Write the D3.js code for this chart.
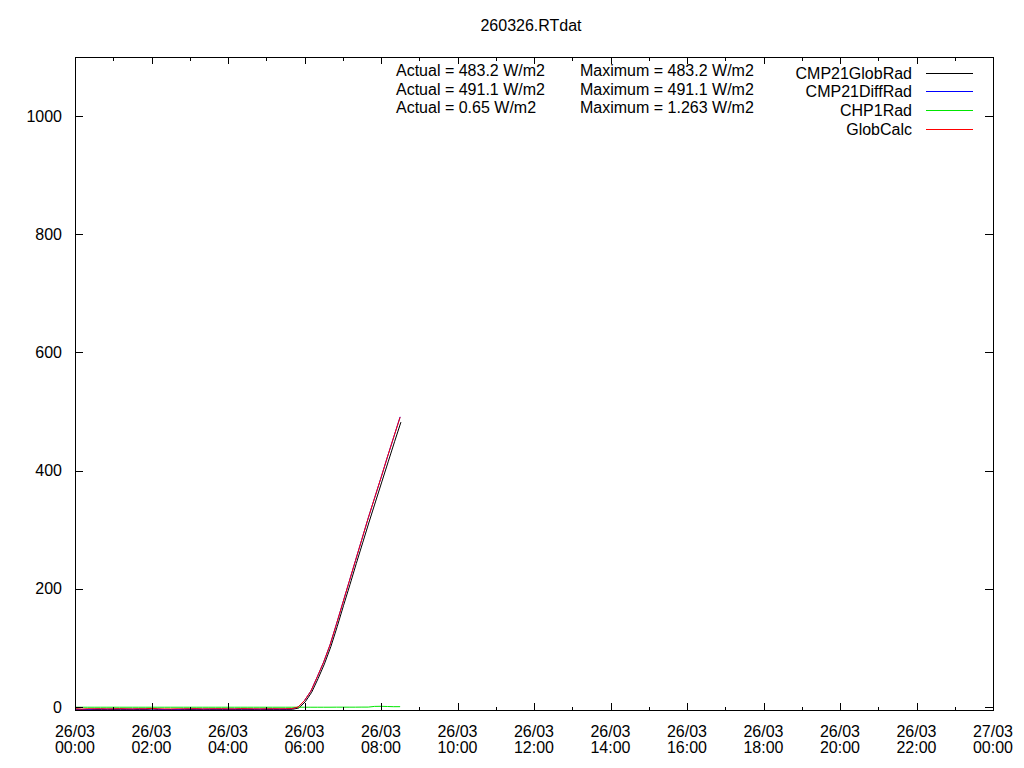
<!DOCTYPE html>
<html>
<head>
<meta charset="utf-8">
<script src="https://cdn.jsdelivr.net/npm/d3@7"></script>
<style>
  html, body { margin: 0; padding: 0; background: #fff; }
  svg { display: block; font-family: "Liberation Sans", Arial, sans-serif; }
</style>
</head>
<body>
<svg id="chart" width="1024" height="768"></svg>
<script>
// ---- Data ----
const title = "260326.RTdat";
const times = [
  "00:00","00:10","00:20","00:30","00:40","00:50",
  "01:00","01:10","01:20","01:30","01:40","01:50",
  "02:00","02:10","02:20","02:30","02:40","02:50",
  "03:00","03:10","03:20","03:30","03:40","03:50",
  "04:00","04:10","04:20","04:30","04:40","04:50",
  "05:00","05:10","05:20","05:30","05:40","05:50",
  "06:00","06:10","06:20","06:30","06:40","06:50",
  "07:00","07:10","07:20","07:30","07:40","07:50",
  "08:00","08:10","08:20","08:30"
];
const globRad = [
  -2.5,-3.1,-2.8,-3.2,-3.0,-3.3,
  -3.1,-2.9,-3.2,-3.4,-3.0,-3.1,
  -2.2,-3.3,-3.5,-3.2,-3.0,-3.3,
  -3.1,-2.9,-3.4,-3.2,-3.0,-3.1,
  -3.3,-3.2,-2.9,-3.0,-3.2,-3.4,
  -3.1,-3.0,-3.2,-3.1,-2.8,-0.5,
  10,26,49,74,103,137,
  173,208,244,279,314,348,
  382,416,450,483.2
];
const diffRad = [
  -4.6,-4.4,-4.5,-3.4,-3.3,-3.5,
  -3.3,-3.2,-3.4,-3.5,-3.3,-3.3,
  -3.0,-3.4,-4.5,-4.6,-4.4,-3.4,
  -3.3,-3.2,-3.5,-3.4,-3.3,-3.3,
  -3.4,-3.4,-3.2,-3.3,-3.4,-3.5,
  -3.3,-3.2,-3.4,-3.3,-3.0,0,
  11,27,51,76,105,140,
  176,212,248,284,320,354,
  388,423,457,491.1
];
const chp1Rad = [
  -0.3,-0.3,-0.3,-0.3,-0.3,-0.3,
  -0.3,-0.3,-0.3,-0.3,-0.3,-0.3,
  -0.3,-0.3,-0.3,-0.3,-0.3,-0.3,
  -0.3,-0.3,-0.3,-0.3,-0.3,-0.3,
  -0.3,-0.3,-0.3,-0.3,-0.3,-0.3,
  -0.3,-0.3,-0.3,-0.3,-0.3,-0.3,
  -0.3,-0.3,-0.3,-0.3,-0.3,-0.2,
  -0.2,-0.2,-0.2,-0.1,-0.1,1.1,
  1.263,0.9,0.6,0.65
];
const globCalc = [
  -3.0,-3.5,-2.9,-3.0,-2.9,-3.1,
  -3.0,-2.8,-3.0,-3.1,-2.9,-3.0,
  -2.4,-3.0,-3.1,-3.2,-3.0,-3.0,
  -2.9,-2.8,-3.1,-3.0,-2.9,-2.9,
  -3.0,-3.1,-2.8,-2.9,-3.0,-3.1,
  -3.0,-2.9,-3.0,-2.9,-2.7,0,
  11,27,51,76,105,140,
  176,212,248,284,320,354,
  388,423,457,490.5
];
const seriesNames = ["CMP21GlobRad","CMP21DiffRad","CHP1Rad","GlobCalc"];
const seriesColors = ["#000000","#0000ff","#00e600","#ff0000"];
const actualLabels = ["Actual = 483.2 W/m2","Actual = 491.1 W/m2","Actual = 0.65 W/m2"];
const maximumLabels = ["Maximum = 483.2 W/m2","Maximum = 491.1 W/m2","Maximum = 1.263 W/m2"];
const yTicks = [0,200,400,600,800,1000];
const yDomain = [-5, 1100];

// ---- Layout ----
const L = 75, R = 993, T = 57, B = 710;
const svg = d3.select("#chart");

const t0 = Date.UTC(2026,2,26,0,0);
const t1 = Date.UTC(2026,2,27,0,0);
const parseT = s => { const [h,m] = s.split(":").map(Number); return new Date(t0 + (h*60+m)*60000); };
const x = d3.scaleUtc().domain([new Date(t0), new Date(t1)]).range([L, R]);
const y = d3.scaleLinear().domain(yDomain).range([B, T]);

const majorTicks = x.ticks(d3.utcHour.every(2));
const minorTicks = x.ticks(d3.utcHour.every(1));

svg.append("defs").append("clipPath").attr("id","clip")
  .append("rect").attr("x",L).attr("y",T).attr("width",R-L).attr("height",B-T);

// ---- Data lines ----
const allSeries = [globRad, diffRad, chp1Rad, globCalc];
const line = d3.line().x((d,i) => x(parseT(times[i]))).y(d => y(d));
const g = svg.append("g").attr("clip-path","url(#clip)");
allSeries.forEach((vals, k) => {
  g.append("path").datum(vals)
    .attr("d", line)
    .attr("fill","none")
    .attr("stroke", seriesColors[k])
    .attr("stroke-width", 1)
    .attr("transform", k === 0 ? "translate(0.8,0.6)" : null);
});

// ---- Axes (gnuplot style: inward ticks, mirrored) ----
svg.append("g").attr("transform",`translate(0,${B})`)
  .call(d3.axisBottom(x).tickValues(majorTicks).tickSize(-7).tickFormat(""))
  .call(s => s.select(".domain").remove());
svg.append("g").attr("transform",`translate(0,${B})`)
  .call(d3.axisBottom(x).tickValues(minorTicks).tickSize(-3.5).tickFormat(""))
  .call(s => s.select(".domain").remove());
svg.append("g").attr("transform",`translate(0,${T})`)
  .call(d3.axisTop(x).tickValues(majorTicks).tickSize(-7).tickFormat(""))
  .call(s => s.select(".domain").remove());
svg.append("g").attr("transform",`translate(0,${T})`)
  .call(d3.axisTop(x).tickValues(minorTicks).tickSize(-3.5).tickFormat(""))
  .call(s => s.select(".domain").remove());
const yl = svg.append("g").attr("transform",`translate(${L},0)`)
  .call(d3.axisLeft(y).tickValues(yTicks).tickSize(-8).tickPadding(13).tickFormat(d3.format("d")))
  .call(s => s.select(".domain").remove());
yl.selectAll("text").attr("font-size","16px").attr("font-family","Liberation Sans, Arial, sans-serif").attr("fill","#000");
svg.append("g").attr("transform",`translate(${R},0)`)
  .call(d3.axisRight(y).tickValues(yTicks).tickSize(-8).tickFormat(""))
  .call(s => s.select(".domain").remove());

svg.selectAll(".tick line").attr("stroke","#000").attr("shape-rendering","crispEdges");

svg.append("rect").attr("x",L).attr("y",T).attr("width",R-L).attr("height",B-T)
  .attr("fill","none").attr("stroke","#000").attr("stroke-width",1).attr("shape-rendering","crispEdges");

// x tick labels (two lines)
const fDate = d3.utcFormat("%d/%m"), fTime = d3.utcFormat("%H:%M");
const xl = svg.append("g").attr("font-size","16px").attr("fill","#000");
majorTicks.forEach(t => {
  const tx = xl.append("text").attr("x", x(t)).attr("text-anchor","middle");
  tx.append("tspan").attr("x", x(t)).attr("y", 737).text(fDate(t));
  tx.append("tspan").attr("x", x(t)).attr("y", 753).text(fTime(t));
});

// title
svg.append("text").attr("x", 531).attr("y", 31).attr("text-anchor","middle")
  .attr("font-size","16px").attr("fill","#000").text(title);

// stats
const st = svg.append("g").attr("font-size","16px").attr("fill","#000");
actualLabels.forEach((s,i) => st.append("text").attr("x",396).attr("y",76 + i*18.7).text(s));
maximumLabels.forEach((s,i) => st.append("text").attr("x",580).attr("y",76 + i*18.7).text(s));

// legend
const lg = svg.append("g").attr("font-size","16px").attr("fill","#000");
seriesNames.forEach((n,i) => {
  const yy = 73 + i*18.7;
  lg.append("text").attr("x",912).attr("y",yy+5.5).attr("text-anchor","end").text(n);
  lg.append("line").attr("x1",926).attr("x2",973).attr("y1",yy).attr("y2",yy)
    .attr("stroke", seriesColors[i]).attr("stroke-width",1).attr("shape-rendering","crispEdges");
});
</script>
</body>
</html>
